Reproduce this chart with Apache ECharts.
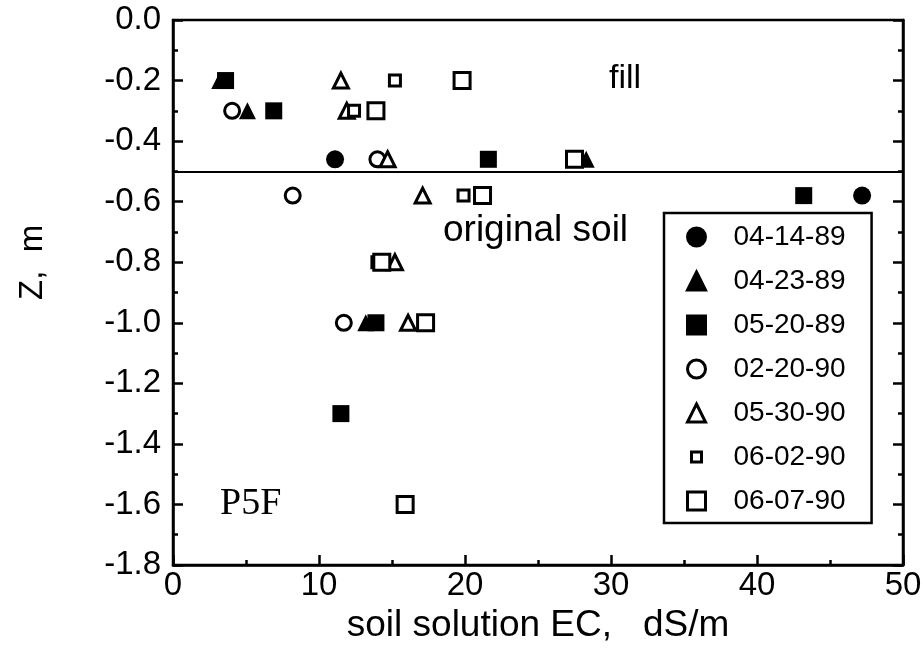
<!DOCTYPE html>
<html>
<head>
<meta charset="utf-8">
<title>P5F soil solution EC</title>
<script src="https://cdn.jsdelivr.net/npm/echarts@6/dist/echarts.min.js"></script>
<style>
    html, body { margin: 0; padding: 0; background: #fff; }
    #chart { width: 923px; height: 663px; }
</style>
</head>
<body>
<div id="chart"></div>
<script>
// 各日期的数据 (EC dS/m, Z m)
var dates = ['04-14-89', '04-23-89', '05-20-89', '02-20-90', '05-30-90', '06-02-90', '06-07-90'];
var ec_041489 = [11.1, 47.2];
var z_041489  = [-0.46, -0.58];
var ec_042389 = [3.2, 5.1, 28.3, 13.2];
var z_042389  = [-0.2, -0.3, -0.46, -1.0];
var ec_052089 = [3.6, 6.9, 21.6, 43.2, 13.9, 11.5];
var z_052089  = [-0.2, -0.3, -0.46, -0.58, -1.0, -1.3];
var ec_022090 = [4.05, 14.0, 8.2, 11.7];
var z_022090  = [-0.3, -0.46, -0.58, -1.0];
var ec_053090 = [11.5, 11.9, 14.7, 17.1, 15.2, 16.1];
var z_053090  = [-0.2, -0.3, -0.46, -0.58, -0.8, -1.0];
var ec_060290 = [15.2, 12.4, 19.9, 14.0, 15.9];
var z_060290  = [-0.2, -0.3, -0.58, -0.8, -1.6];
var ec_060790 = [19.8, 13.9, 27.5, 21.2, 14.3, 17.3, 15.9];
var z_060790  = [-0.2, -0.3, -0.46, -0.58, -0.8, -1.0, -1.6];
var fillDepth = -0.5;

var font = '"Liberation Sans", Arial, Helvetica, sans-serif';

function pairs(xs, ys) {
    var out = [];
    for (var i = 0; i < xs.length; i++) {
        out.push([xs[i], ys[i]]);
    }
    return out;
}

function mk(name, xs, ys, symbol, size, open) {
    return {
        name: name,
        type: 'scatter',
        symbol: symbol,
        symbolSize: size,
        data: pairs(xs, ys),
        itemStyle: open ? {color: '#fff', borderColor: '#000', borderWidth: 3, opacity: 1}
                        : {color: '#000', borderColor: '#000', borderWidth: 0, opacity: 1},
        emphasis: {disabled: true}
    };
}

var chart = echarts.init(document.getElementById('chart'));

var series = [
    mk(dates[0], ec_041489, z_041489, 'circle', 18, false),
    mk(dates[1], ec_042389, z_042389, 'triangle', 17, false),
    mk(dates[2], ec_052089, z_052089, 'rect', 17, false),
    mk(dates[3], ec_022090, z_022090, 'circle', 15, true),
    mk(dates[4], ec_053090, z_053090, 'triangle', 15, true),
    mk(dates[5], ec_060290, z_060290, 'rect', 11, true),
    mk(dates[6], ec_060790, z_060790, 'rect', 16, true)
];
// fill 与 original soil 的分界线
series[0].markLine = {
    silent: true,
    symbol: ['none', 'none'],
    label: {show: false},
    lineStyle: {color: '#000', width: 2, type: 'solid'},
    data: [{yAxis: fillDepth}]
};

var option = {
    animation: false,
    backgroundColor: '#fff',
    grid: {
        show: true,
        borderColor: '#000',
        borderWidth: 2.5,
        backgroundColor: 'transparent',
        left: 173,
        right: 20,
        top: 20,
        bottom: 98,
        outerBoundsMode: 'none'
    },
    legend: {
        orient: 'vertical',
        left: 664,
        top: 213,
        padding: [10, 26, 8, 22],
        itemGap: 16,
        itemWidth: 18,
        itemHeight: 18,
        selectedMode: false,
        borderColor: '#000',
        borderWidth: 2.5,
        backgroundColor: '#fff',
        itemStyle: {borderWidth: 3},
        textStyle: {fontSize: 28, fontFamily: font, color: '#000', padding: [0, 0, 0, 23]},
        data: [
            dates[0], dates[1], dates[2], dates[3], dates[4],
            {name: dates[5], icon: 'path://M0,0M18,18M4,4L14,4L14,14L4,14Z'},
            dates[6]
        ]
    },
    xAxis: {
        type: 'value',
        position: 'bottom',
        min: 0,
        max: 50,
        interval: 10,
        name: 'soil solution EC,   dS/m',
        nameLocation: 'middle',
        nameGap: 36,
        nameTextStyle: {fontSize: 37, fontFamily: font, color: '#000'},
        axisLine: {show: true, onZero: false, lineStyle: {color: '#000', width: 2.5}},
        axisTick: {show: true, inside: true, length: 10, lineStyle: {color: '#000', width: 2.5}},
        minorTick: {show: true, splitNumber: 2, length: 5, lineStyle: {color: '#000', width: 2.5}},
        axisLabel: {fontSize: 33, fontFamily: font, color: '#000', margin: 4},
        splitLine: {show: false}
    },
    yAxis: [
        {
            type: 'value',
            position: 'left',
            min: -1.8,
            max: 0,
            interval: 0.2,
            axisLine: {show: true, onZero: false, lineStyle: {color: '#000', width: 2.5}},
            axisTick: {inside: true, length: 10, lineStyle: {color: '#000', width: 2.5}},
            minorTick: {show: true, splitNumber: 2, length: 5, lineStyle: {color: '#000', width: 2.5}},
            axisLabel: {
                fontSize: 33, fontFamily: font, color: '#000', margin: 12,
                formatter: function (v) { return v.toFixed(1); }
            },
            splitLine: {show: false}
        },
        {
            type: 'value',
            position: 'right',
            min: -1.8,
            max: 0,
            interval: 0.2,
            axisLine: {show: true, onZero: false, lineStyle: {color: '#000', width: 2.5}},
            axisTick: {inside: true, length: 10, lineStyle: {color: '#000', width: 2.5}},
            minorTick: {show: true, splitNumber: 2, length: 5, lineStyle: {color: '#000', width: 2.5}},
            axisLabel: {show: false},
            splitLine: {show: false}
        }
    ],
    graphic: [
        {type: 'text', left: 609, top: 62, style: {text: 'fill', fontSize: 34, fontFamily: font, fill: '#000'}},
        {type: 'text', left: 443, top: 212, style: {text: 'original soil', fontSize: 37, fontFamily: font, fill: '#000'}},
        {type: 'text', left: 220, top: 485, style: {text: 'P5F', fontSize: 38, fontFamily: '"Liberation Serif", "Times New Roman", serif', fill: '#000'}},
        {type: 'text', x: 16, y: 300, rotation: Math.PI / 2, style: {text: 'Z,  m', fontSize: 33, fontFamily: font, fill: '#000'}}
    ],
    series: series
};
chart.setOption(option);
</script>
</body>
</html>
